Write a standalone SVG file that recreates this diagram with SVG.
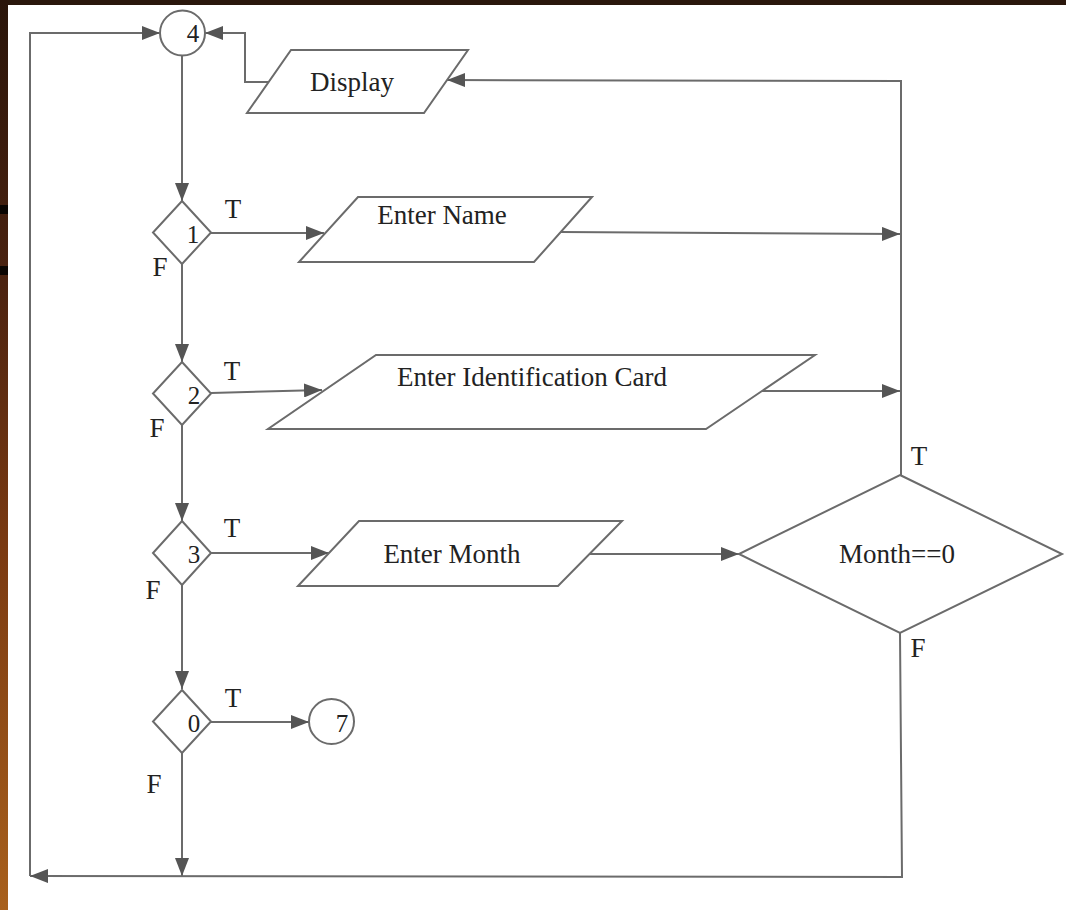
<svg xmlns="http://www.w3.org/2000/svg" width="1066" height="910" viewBox="0 0 1066 910">
<defs>
<linearGradient id="edge" x1="0" y1="0" x2="0" y2="1">
<stop offset="0" stop-color="#2a150a"/>
<stop offset="0.3" stop-color="#4a2210"/>
<stop offset="0.6" stop-color="#7a3a12"/>
<stop offset="1" stop-color="#a8601c"/>
</linearGradient>
<marker id="arr" markerUnits="userSpaceOnUse" markerWidth="20" markerHeight="14" refX="18" refY="7" orient="auto">
<path d="M0,0 L18,7 L0,14 Z" fill="#555"/>
</marker>
<style>
.s{fill:#fff;stroke:#6b6b6b;stroke-width:2}
.c{fill:none;stroke:#6b6b6b;stroke-width:2}
.t{font-family:"Liberation Serif","Times New Roman",serif;font-size:27px;fill:#222;text-anchor:middle}
.d{font-family:"Liberation Serif","Times New Roman",serif;font-size:25px;fill:#222;text-anchor:middle}
</style>
</defs>
<rect width="1066" height="910" fill="#fff"/>
<rect x="0" y="0" width="1066" height="5" fill="#2a170c"/>
<rect x="0" y="0" width="8" height="910" fill="url(#edge)"/>
<rect x="0" y="205" width="8" height="9" fill="#0a0502"/>
<rect x="0" y="266" width="8" height="9" fill="#0a0502"/>

<g id="connectors">
<path class="c" d="M182,56 L182,201" marker-end="url(#arr)"/>
<path class="c" d="M269,82 L245,82 L245,33 L205,33" marker-end="url(#arr)"/>
<path class="c" d="M901,475 L901,81 L447,80" marker-end="url(#arr)"/>
<path class="c" d="M211,233 L324,233" marker-end="url(#arr)"/>
<path class="c" d="M561,232 L900,234" marker-end="url(#arr)"/>
<path class="c" d="M182,264 L182,362" marker-end="url(#arr)"/>
<path class="c" d="M211,393 L322,390" marker-end="url(#arr)"/>
<path class="c" d="M762,391 L900,391" marker-end="url(#arr)"/>
<path class="c" d="M182,425 L182,521" marker-end="url(#arr)"/>
<path class="c" d="M211,553 L329,553" marker-end="url(#arr)"/>
<path class="c" d="M590,554 L739,554" marker-end="url(#arr)"/>
<path class="c" d="M182,585 L182,689" marker-end="url(#arr)"/>
<path class="c" d="M211,722 L309,722" marker-end="url(#arr)"/>
<path class="c" d="M182,753 L182,876" marker-end="url(#arr)"/>
<path class="c" d="M900,633 L902,877 L30,876" marker-end="url(#arr)"/>
<path class="c" d="M30,876 L30,33 L160,33" marker-end="url(#arr)"/>
</g>

<g id="labels">
<text class="t" x="233" y="218">T</text>
<text class="t" x="160" y="276">F</text>
<text class="t" x="232" y="380">T</text>
<text class="t" x="157" y="437">F</text>
<text class="t" x="232" y="537">T</text>
<text class="t" x="153" y="599">F</text>
<text class="t" x="233" y="707">T</text>
<text class="t" x="154" y="793">F</text>
<text class="t" x="919" y="465">T</text>
<text class="t" x="918" y="657">F</text>
</g>

<g id="node-4">
<circle class="s" cx="182.5" cy="33" r="22.5"/>
<text class="d" x="193" y="42">4</text>
</g>
<g id="node-display">
<polygon class="s" points="291,50 468,50 424,113 247,113"/>
<text class="t" x="352" y="91">Display</text>
</g>
<g id="node-d1">
<polygon class="s" points="182,201 211,232.5 182,264 153,232.5"/>
<text class="d" x="193" y="243">1</text>
</g>
<g id="node-name">
<polygon class="s" points="358,197 592,197 534,262 299,262"/>
<text class="t" x="442" y="224">Enter Name</text>
</g>
<g id="node-d2">
<polygon class="s" points="182,362 211,393.5 182,425 153,393.5"/>
<text class="d" x="194" y="404">2</text>
</g>
<g id="node-id">
<polygon class="s" points="376,355 815,355 706,429 268,429"/>
<text class="t" x="532" y="386">Enter Identification Card</text>
</g>
<g id="node-d3">
<polygon class="s" points="182,521 211,553 182,585 153,553"/>
<text class="d" x="194" y="563">3</text>
</g>
<g id="node-month">
<polygon class="s" points="359,521 622,521 558,586 298,586"/>
<text class="t" x="452" y="563">Enter Month</text>
</g>
<g id="node-check">
<polygon class="s" points="900,475 1062,554 900,633 739,554"/>
<text class="t" x="897" y="563">Month==0</text>
</g>
<g id="node-d0">
<polygon class="s" points="182,690 211,721.5 182,753 153,721.5"/>
<text class="d" x="194" y="732">0</text>
</g>
<g id="node-7">
<circle class="s" cx="331.5" cy="721.5" r="22.5"/>
<text class="d" x="342" y="732">7</text>
</g>
</svg>
